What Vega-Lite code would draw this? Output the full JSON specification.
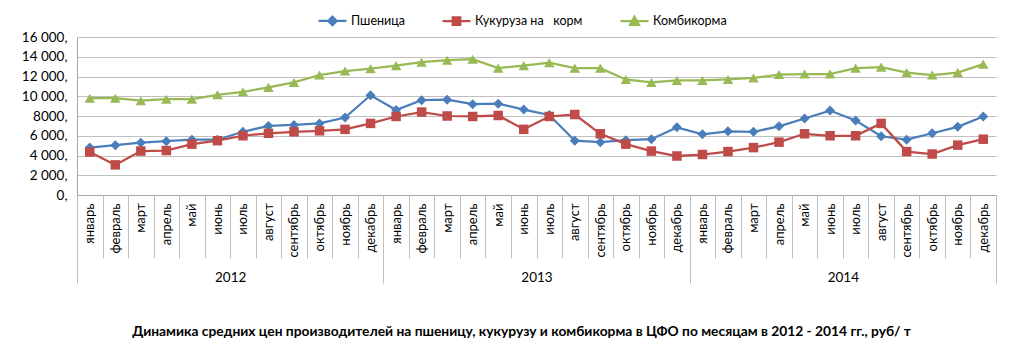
{
  "$schema": "https://vega.github.io/schema/vega-lite/v6.json",
  "width": 919,
  "height": 158,
  "autosize": "none",
  "padding": {"left": 77, "top": 37, "right": 27, "bottom": 156},
  "background": "white",
  "config": {"font": "Lato", "view": {"stroke": null}},
  "title": {"text": "Динамика средних цен производителей на пшеницу, кукурузу и комбикорма  в ЦФО по месяцам в 2012 - 2014 гг., руб/ т", "orient": "bottom", "anchor": "middle", "fontSize": 13.8, "fontWeight": "bold", "font": "Lato", "color": "#000", "offset": 41, "dx": -15},
  "data": {"values": [
    {"k": "2012-01|январь", "year": "2012", "w": 4800, "c": 4350, "f": 9800},
    {"k": "2012-02|февраль", "year": "2012", "w": 5050, "c": 3050, "f": 9800},
    {"k": "2012-03|март", "year": "2012", "w": 5300, "c": 4450, "f": 9550},
    {"k": "2012-04|апрель", "year": "2012", "w": 5450, "c": 4500, "f": 9700},
    {"k": "2012-05|май", "year": "2012", "w": 5600, "c": 5150, "f": 9700},
    {"k": "2012-06|июнь", "year": "2012", "w": 5600, "c": 5500, "f": 10150},
    {"k": "2012-07|июль", "year": "2012", "w": 6400, "c": 6000, "f": 10450},
    {"k": "2012-08|август", "year": "2012", "w": 7000, "c": 6250, "f": 10900},
    {"k": "2012-09|сентябрь", "year": "2012", "w": 7100, "c": 6400, "f": 11400},
    {"k": "2012-10|октябрь", "year": "2012", "w": 7250, "c": 6500, "f": 12150},
    {"k": "2012-11|ноябрь", "year": "2012", "w": 7850, "c": 6650, "f": 12550},
    {"k": "2012-12|декабрь", "year": "2012", "w": 10100, "c": 7250, "f": 12800},
    {"k": "2013-01|январь", "year": "2013", "w": 8600, "c": 7950, "f": 13100},
    {"k": "2013-02|февраль", "year": "2013", "w": 9600, "c": 8400, "f": 13450},
    {"k": "2013-03|март", "year": "2013", "w": 9650, "c": 8000, "f": 13650},
    {"k": "2013-04|апрель", "year": "2013", "w": 9200, "c": 7950, "f": 13750},
    {"k": "2013-05|май", "year": "2013", "w": 9250, "c": 8050, "f": 12850},
    {"k": "2013-06|июнь", "year": "2013", "w": 8650, "c": 6650, "f": 13100},
    {"k": "2013-07|июль", "year": "2013", "w": 8100, "c": 7950, "f": 13400},
    {"k": "2013-08|август", "year": "2013", "w": 5500, "c": 8150, "f": 12850},
    {"k": "2013-09|сентябрь", "year": "2013", "w": 5350, "c": 6200, "f": 12850},
    {"k": "2013-10|октябрь", "year": "2013", "w": 5550, "c": 5150, "f": 11700},
    {"k": "2013-11|ноябрь", "year": "2013", "w": 5650, "c": 4450, "f": 11400},
    {"k": "2013-12|декабрь", "year": "2013", "w": 6850, "c": 3950, "f": 11600},
    {"k": "2014-01|январь", "year": "2014", "w": 6150, "c": 4100, "f": 11600},
    {"k": "2014-02|февраль", "year": "2014", "w": 6450, "c": 4400, "f": 11700},
    {"k": "2014-03|март", "year": "2014", "w": 6400, "c": 4800, "f": 11850},
    {"k": "2014-04|апрель", "year": "2014", "w": 6950, "c": 5350, "f": 12200},
    {"k": "2014-05|май", "year": "2014", "w": 7750, "c": 6200, "f": 12250},
    {"k": "2014-06|июнь", "year": "2014", "w": 8550, "c": 6000, "f": 12250},
    {"k": "2014-07|июль", "year": "2014", "w": 7550, "c": 6000, "f": 12850},
    {"k": "2014-08|август", "year": "2014", "w": 5950, "c": 7250, "f": 12950},
    {"k": "2014-09|сентябрь", "year": "2014", "w": 5600, "c": 4400, "f": 12400},
    {"k": "2014-10|октябрь", "year": "2014", "w": 6250, "c": 4150, "f": 12150},
    {"k": "2014-11|ноябрь", "year": "2014", "w": 6900, "c": 5050, "f": 12400},
    {"k": "2014-12|декабрь", "year": "2014", "w": 7950, "c": 5650, "f": 13250}
  ]},
  "layer": [
    {
      "transform": [{"fold": ["w", "c", "f"], "as": ["s", "v"]}],
      "encoding": {
        "x": {"field": "k", "type": "ordinal", "scale": {"type": "band", "paddingInner": 0, "paddingOuter": 0},
          "axis": {"title": null, "orient": "bottom", "labelAngle": 270, "labelAlign": "right", "labelBaseline": "middle", "tickBand": "extent", "tickSize": 63, "tickColor": "#bfbfbf", "domainColor": "#a6a6a6", "labelPadding": -55, "labelExpr": "split(datum.value, '|')[1]", "labelFontSize": 13, "labelColor": "#000", "labelOverlap": false, "labelFont": "Lato"}},
        "y": {"field": "v", "type": "quantitative", "scale": {"domain": [0, 16000], "nice": false},
          "axis": {"title": null, "values": [0, 2000, 4000, 6000, 8000, 10000, 12000, 14000, 16000], "grid": true, "gridColor": "#bfbfbf", "ticks": false, "domain": true, "domainColor": "#a6a6a6", "labelPadding": 10, "labelFontSize": 13.5, "labelColor": "#000", "labelFont": "Lato", "labelExpr": "datum.value == 8000 ? '8000,' : replace(format(datum.value, ',d'), ',', ' ') + ','"}}
      },
      "layer": [
        {"mark": {"type": "line", "strokeWidth": 2.25},
         "encoding": {"color": {"field": "s", "type": "nominal", "scale": {"domain": ["w", "c", "f"], "range": ["#4a7ebb", "#be4b48", "#98b954"]},
           "legend": {"orient": "none", "legendX": 240, "legendY": -32, "direction": "horizontal", "title": null, "labelFontSize": 12.5, "labelFont": "Lato", "labelColor": "#000", "columnPadding": 33, "labelOffset": 3, "symbolSize": 784, "symbolStrokeWidth": 2.25,
             "labelExpr": "datum.label == 'w' ? 'Пшеница' : datum.label == 'c' ? 'Кукуруза на\u00a0\u00a0\u00a0корм' : 'Комбикорма'",
             "encode": {"symbols": {"update": {
               "shape": {"signal": "datum.value == 'w' ? 'M-1,0L1,0M0,-0.3L0.3,0L0,0.3L-0.3,0Z' : datum.value == 'c' ? 'M-1,0L1,0M-0.27,-0.27L0.27,-0.27L0.27,0.27L-0.27,0.27Z' : 'M-1,0L1,0M0,-0.32L0.32,0.26L-0.32,0.26Z'"},
               "size": {"value": 784},
               "fill": {"scale": "color", "field": "value"},
               "stroke": {"scale": "color", "field": "value"},
               "strokeWidth": {"value": 2.25},
               "opacity": {"value": 1}
             }}}}}}},
        {"transform": [{"filter": "datum.s == 'w'"}],
         "mark": {"type": "point", "filled": true, "opacity": 1, "size": 100, "shape": "diamond", "color": "#4a7ebb"},
         "encoding": {}},
        {"transform": [{"filter": "datum.s == 'c'"}],
         "mark": {"type": "point", "filled": true, "opacity": 1, "size": 90, "shape": "square", "color": "#be4b48"},
         "encoding": {}},
        {"transform": [{"filter": "datum.s == 'f'"}],
         "mark": {"type": "point", "filled": true, "opacity": 1, "size": 110, "shape": "triangle-up", "color": "#98b954"},
         "encoding": {}}
      ]
    },
    {
      "mark": {"type": "point", "opacity": 0},
      "encoding": {
        "x": {"field": "year", "type": "ordinal", "scale": {"type": "band", "paddingInner": 0, "paddingOuter": 0},
          "axis": {"title": null, "orient": "bottom", "offset": 0, "domain": false, "tickBand": "extent", "tickSize": 88, "tickColor": "#bfbfbf", "labelPadding": -13, "labelAngle": 0, "labelFontSize": 13.5, "labelColor": "#000", "labelFont": "Lato", "labelBaseline": "top"}}
      }
    }
  ],
  "resolve": {"scale": {"x": "independent"}, "axis": {"x": "independent"}}
}
